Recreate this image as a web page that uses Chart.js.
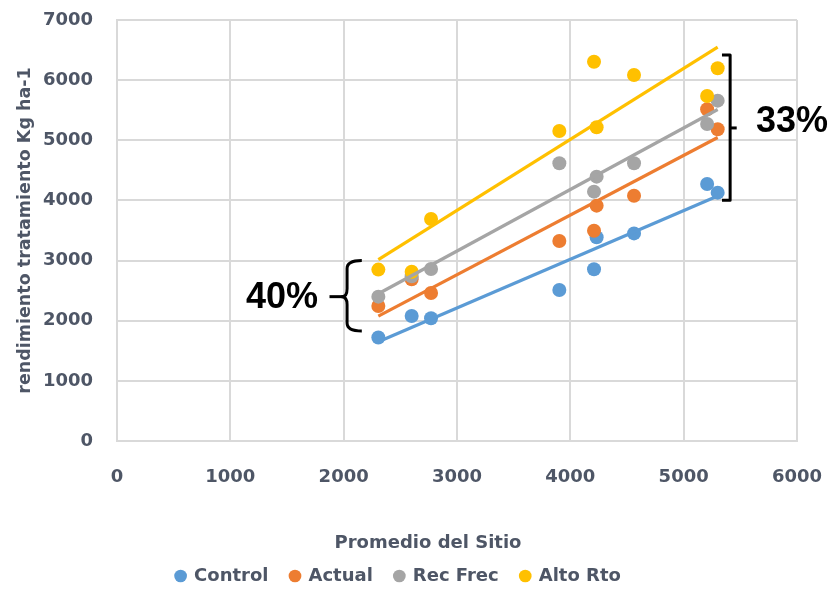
<!DOCTYPE html>
<html>
<head>
<meta charset="utf-8">
<script src="https://cdn.jsdelivr.net/npm/chart.js@4.4.1/dist/chart.umd.min.js"></script>
<style>
  html, body { margin: 0; padding: 0; background: #ffffff; }
  #wrap { width: 832px; height: 604px; }
</style>
</head>
<body>
<div id="wrap"><canvas id="chart" width="832" height="604"></canvas></div>
<script>
// Rendimiento por tratamiento frente al promedio del sitio
const seriesNames = ['Control', 'Actual', 'Rec Frec', 'Alto Rto'];
const seriesColors = ['#5B9BD5', '#ED7D31', '#A5A5A5', '#FFC000'];

const siteMean     = [2306, 2600, 2771, 3903, 4209, 4232, 4562, 5207, 5300];
const controlYield = [1720, 2078, 2040, 2511, 2855, 3387, 3452, 4273, 4129];
const actualYield  = [2245, 2689, 2461, 3326, 3497, 3913, 4079, 5515, 5183];
const recFrecYield = [2400, 2740, 2860, 4617, 4146, 4395, 4617, 5271, 5659];
const altoRtoYield = [2850, 2815, 3691, 5155, 6307, 5216, 6086, 5737, 6197];

const xTicks = [0, 1000, 2000, 3000, 4000, 5000, 6000];
const yTicks = [0, 1000, 2000, 3000, 4000, 5000, 6000, 7000];

const xTitle = 'Promedio del Sitio';
const yTitle = 'rendimiento tratamiento Kg ha-1';
const leftNote = '40%';
const rightNote = '33%';

const textColor = '#4e5666';
const gridColor = '#d9d9d9';
const labelFamily = '"DejaVu Sans", sans-serif';
const noteFamily = '"Liberation Sans", Arial, sans-serif';

const seriesValues = [controlYield, actualYield, recFrecYield, altoRtoYield];

// Least-squares trend line spanning the observed site range
function trendLine(xs, ys) {
  const n = xs.length;
  const mx = xs.reduce((a, b) => a + b, 0) / n;
  const my = ys.reduce((a, b) => a + b, 0) / n;
  let sxy = 0, sxx = 0;
  for (let i = 0; i < n; i++) {
    sxy += (xs[i] - mx) * (ys[i] - my);
    sxx += (xs[i] - mx) * (xs[i] - mx);
  }
  const slope = sxy / sxx;
  const lo = Math.min(...xs), hi = Math.max(...xs);
  return [
    { x: lo, y: my + slope * (lo - mx) },
    { x: hi, y: my + slope * (hi - mx) }
  ];
}

const datasets = [];
seriesValues.forEach((vals, i) => {
  datasets.push({
    label: seriesNames[i],
    data: siteMean.map((x, k) => ({ x: x, y: vals[k] })),
    backgroundColor: seriesColors[i],
    borderColor: seriesColors[i],
    borderWidth: 0,
    pointRadius: 7,
    pointHoverRadius: 7,
    pointStyle: 'circle',
    order: 10 - i
  });
});
seriesValues.forEach((vals, i) => {
  datasets.push({
    label: seriesNames[i] + ' tendencia',
    isTrend: true,
    data: trendLine(siteMean, vals),
    showLine: true,
    borderColor: seriesColors[i],
    backgroundColor: seriesColors[i],
    borderWidth: 3.2,
    pointRadius: 0,
    pointHoverRadius: 0,
    order: 4 - i
  });
});

// Brackets, percentage notes and the horizontal axis title
const notesPlugin = {
  id: 'notes',
  afterDraw(chart) {
    const { ctx, chartArea, scales: { x, y } } = chart;
    const px = v => x.getPixelForValue(v);
    const py = v => y.getPixelForValue(v);
    ctx.save();

    ctx.fillStyle = textColor;
    ctx.font = 'bold 18px ' + labelFamily;
    ctx.textAlign = 'center';
    ctx.textBaseline = 'middle';
    ctx.fillText(xTitle, (chartArea.left + chartArea.right) / 2 - 29, chartArea.bottom + 102);

    ctx.strokeStyle = '#000000';
    ctx.lineWidth = 3;
    ctx.lineJoin = 'round';
    ctx.lineCap = 'butt';

    // curly brace on the left
    const xt = px(2160), xs = px(2030), xc = px(1985), xd = px(1875);
    const yt = py(3000), yb = py(1830), ym = py(2400);
    const r = 8;
    ctx.beginPath();
    ctx.moveTo(xt, yt);
    ctx.quadraticCurveTo(xs, yt, xs, yt + r);
    ctx.lineTo(xs, ym - r);
    ctx.quadraticCurveTo(xs, ym, xc, ym);
    ctx.quadraticCurveTo(xs, ym, xs, ym + r);
    ctx.lineTo(xs, yb - r);
    ctx.quadraticCurveTo(xs, yb, xt, yb);
    ctx.stroke();
    ctx.beginPath();
    ctx.moveTo(xd, ym);
    ctx.lineTo(xc + 1, ym);
    ctx.stroke();

    // square bracket on the right
    const rs = px(5410), rh = px(5338), rt = px(5468);
    const rTop = py(6420), rBot = py(4005), rMid = py(5205);
    ctx.beginPath();
    ctx.moveTo(rh, rTop);
    ctx.lineTo(rs, rTop);
    ctx.lineTo(rs, rBot);
    ctx.lineTo(rh, rBot);
    ctx.stroke();
    ctx.beginPath();
    ctx.moveTo(rs, rMid);
    ctx.lineTo(rt, rMid);
    ctx.stroke();

    ctx.fillStyle = '#000000';
    ctx.font = 'bold 36px ' + noteFamily;
    ctx.fillText(leftNote, px(1456), py(2378));
    ctx.fillText(rightNote, px(5956), py(5304));
    ctx.restore();
  }
};

const tickFont = { family: labelFamily, size: 18, weight: 'bold' };
const plainNumber = v => String(v);

new Chart(document.getElementById('chart'), {
  type: 'scatter',
  data: { datasets: datasets },
  options: {
    responsive: false,
    animation: false,
    events: [],
    layout: { padding: { top: 20, left: 0, right: 35, bottom: 9 } },
    plugins: {
      tooltip: { enabled: false },
      legend: {
        position: 'bottom',
        labels: {
          usePointStyle: true,
          pointStyle: 'circle',
          boxWidth: 9,
          boxHeight: 9,
          padding: 22,
          color: textColor,
          font: { family: labelFamily, size: 18, weight: 'bold' },
          filter: (item, data) => !data.datasets[item.datasetIndex].isTrend,
          sort: (a, b) => a.datasetIndex - b.datasetIndex
        }
      }
    },
    scales: {
      x: {
        type: 'linear',
        min: 0,
        max: 6000,
        afterBuildTicks: s => { s.ticks = xTicks.map(v => ({ value: v })); },
        afterFit: s => { s.height = 104; s.paddingLeft = 0; s.paddingRight = 0; },
        grid: { color: gridColor, lineWidth: 2, drawTicks: false },
        border: { color: gridColor, width: 2 },
        ticks: { padding: 26, color: textColor, font: tickFont, callback: plainNumber }
      },
      y: {
        type: 'linear',
        min: 0,
        max: 7000,
        afterBuildTicks: s => { s.ticks = yTicks.map(v => ({ value: v })); },
        afterFit: s => { s.width = 117; s.paddingTop = 0; s.paddingBottom = 0; },
        grid: { color: gridColor, lineWidth: 2, drawTicks: false },
        border: { color: gridColor, width: 2 },
        ticks: { padding: 24, color: textColor, font: tickFont, callback: plainNumber },
        title: {
          display: true,
          text: yTitle,
          color: textColor,
          font: { family: labelFamily, size: 17.5, weight: 'bold' },
          padding: { top: 15, bottom: 0 }
        }
      }
    }
  },
  plugins: [notesPlugin]
});
</script>
</body>
</html>
